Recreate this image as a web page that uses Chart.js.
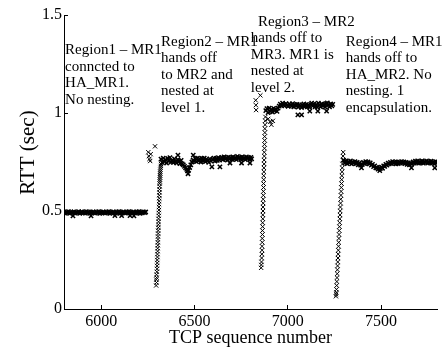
<!DOCTYPE html>
<html>
<head>
<meta charset="utf-8">
<script src="https://cdn.jsdelivr.net/npm/chart.js@4/dist/chart.umd.min.js"></script>
<style>
html,body{margin:0;padding:0;background:#fff;}
canvas{display:block;}
</style>
</head>
<body>
<canvas id="c" width="443" height="350"></canvas>
<script>
// ---- Data ----
const xTicks = [6000, 6500, 7000, 7500];
const yTicks = [0, 0.5, 1, 1.5];
const xLabel = 'TCP sequence number';
const yLabel = 'RTT (sec)';

// Region 1: MR1 connected to HA_MR1 (plateau)
const seqRegion1 = [5800,5806,5812,5818,5824,5830,5836,5842,5848,5848,
  5854,5860,5866,5872,5878,5884,5890,5896,5902,5908,
  5914,5920,5926,5932,5938,5944,5945,5950,5956,5962,
  5968,5974,5980,5986,5992,5998,6004,6010,6016,6022,
  6028,6034,6040,6046,6052,6058,6064,6070,6073,6076,
  6082,6088,6094,6100,6106,6109,6112,6118,6124,6130,
  6136,6142,6148,6154,6154,6160,6166,6172,6175,6178,
  6184,6190,6196,6202,6208,6214,6220,6226,6232,6238];
const rttRegion1 = [0.496,0.489,0.494,0.491,0.497,0.488,0.495,0.492,0.490,0.475,
  0.496,0.489,0.494,0.491,0.497,0.488,0.493,0.496,0.490,0.494,
  0.489,0.497,0.491,0.495,0.488,0.494,0.475,0.490,0.496,0.492,
  0.489,0.495,0.491,0.497,0.488,0.494,0.490,0.496,0.492,0.489,
  0.495,0.491,0.497,0.488,0.494,0.490,0.496,0.492,0.476,0.489,
  0.495,0.491,0.497,0.488,0.494,0.476,0.490,0.496,0.492,0.489,
  0.495,0.491,0.497,0.490,0.476,0.494,0.488,0.496,0.475,0.492,
  0.489,0.495,0.491,0.497,0.488,0.494,0.490,0.496,0.492,0.495];

// Region 2: handoff to MR2 — early outliers and ramp
const seqRegion2Ramp = [6252,6255,6258,6262,6265,6288,
  6294,6296,6295,6297,6296,6298,6299,6299,6300,6300,6301,6301,6302,6302,6303,6303,6304,6304,6305,6305,6306,6306,6307,6307,6308,6308,6309,6309,6310,6310,6311,6311,6312,6312,6313,6313,6314,6314,6315,6315,6316,6316,6317,6318,6319,6320];
const rttRegion2Ramp = [0.800,0.780,0.765,0.755,0.790,0.830,
  0.120,0.135,0.150,0.160,0.175,0.190,0.205,0.220,0.235,0.250,0.265,0.280,0.295,0.310,0.325,0.340,0.355,0.370,0.385,0.400,0.415,0.430,0.445,0.460,0.475,0.490,0.505,0.520,0.535,0.550,0.565,0.580,0.595,0.610,0.625,0.640,0.650,0.660,0.670,0.680,0.690,0.700,0.710,0.720,0.730,0.740];
// Region 2 plateau
const seqRegion2 = [6320,6326,6332,6338,6344,6350,6356,6362,6368,6374,
  6380,6386,6392,6398,6404,6410,6411,6416,6422,6428,
  6434,6440,6446,6452,6458,6462,6465,6468,6474,6480,
  6486,6492,6493,6498,6504,6510,6516,6522,6528,6534,
  6540,6546,6552,6558,6564,6570,6576,6582,6588,6593,
  6598,6604,6610,6616,6622,6628,6634,6636,6640,6646,
  6652,6658,6664,6670,6676,6682,6688,6690,6694,6700,
  6706,6712,6718,6724,6730,6736,6742,6748,6752,6754,
  6760,6766,6772,6778,6784,6790,6796,6797,6802,6806];
const rttRegion2 = [0.765,0.748,0.770,0.752,0.762,0.745,0.768,0.755,0.772,0.750,
  0.760,0.748,0.766,0.752,0.745,0.762,0.785,0.755,0.742,0.758,
  0.740,0.735,0.728,0.720,0.712,0.705,0.690,0.708,0.722,0.735,
  0.750,0.760,0.785,0.755,0.768,0.752,0.770,0.756,0.766,0.750,
  0.768,0.755,0.770,0.752,0.765,0.758,0.748,0.766,0.755,0.725,
  0.762,0.770,0.755,0.768,0.758,0.772,0.760,0.725,0.768,0.774,
  0.762,0.776,0.765,0.772,0.760,0.775,0.766,0.745,0.772,0.764,
  0.776,0.766,0.772,0.762,0.778,0.768,0.774,0.765,0.745,0.776,
  0.766,0.772,0.762,0.776,0.768,0.772,0.764,0.745,0.774,0.766];

// Region 3: MR2 hands off to MR3 — outliers, ramp, ramp-top cluster
const seqRegion3Ramp = [6828,6829,6830,6853,
  6857,6858,6859,6860,6861,6862,6862,6863,6863,6864,6864,6865,6865,6866,6866,6867,6867,6868,6868,6869,6869,6870,6870,6871,6871,6872,6872,6873,6873,6874,6874,6875,6875,6876,6876,6877,6877,6878,6879,6880,
  6895,6905,6912,6920];
const rttRegion3Ramp = [1.065,1.040,1.015,1.090,
  0.210,0.225,0.240,0.260,0.280,0.300,0.320,0.340,0.360,0.380,0.400,0.420,0.440,0.460,0.480,0.500,0.520,0.540,0.560,0.580,0.600,0.620,0.640,0.660,0.680,0.700,0.720,0.740,0.760,0.780,0.800,0.820,0.840,0.860,0.880,0.900,0.920,0.940,0.960,0.980,
  0.970,0.955,0.940,0.960];
// Region 3 plateau
const seqRegion3 = [6882,6888,6894,6900,6906,6912,6918,6924,6930,6936,
  6942,6948,6954,6960,6966,6972,6978,6984,6990,6996,
  7002,7008,7014,7020,7026,7032,7038,7044,7050,7054,
  7056,7062,7068,7074,7074,7080,7086,7092,7098,7104,
  7110,7116,7118,7122,7128,7134,7140,7146,7152,7158,
  7161,7164,7170,7176,7182,7188,7194,7200,7206,7208,
  7212,7218,7224,7230,7236,7241];
const rttRegion3 = [1.012,1.022,1.002,1.025,1.008,1.018,1.005,1.024,1.012,1.020,
  1.008,1.025,1.035,1.045,1.038,1.050,1.042,1.036,1.048,1.040,
  1.034,1.046,1.040,1.035,1.048,1.032,1.042,1.036,1.044,0.990,
  1.030,1.042,1.036,1.028,0.990,1.038,1.046,1.034,1.042,1.032,
  1.040,1.030,1.010,1.044,1.050,1.036,1.046,1.032,1.042,1.030,
  1.010,1.050,1.040,1.032,1.046,1.036,1.044,1.030,1.048,1.010,
  1.052,1.040,1.032,1.046,1.036,1.044];

// Region 4: MR1 hands off to HA_MR2 — ramp
const seqRegion4Ramp = [7258,7259,7260,7261,7262,7263,7264,7265,7266,7267,7268,7269,7270,7271,7272,7273,7274,7275,7276,7277,7278,7279,7280,7281,7282,7283,7284,7285,7286,7287,7288,7289,7290,7291,7292,7293,7295,7296,7297];
const rttRegion4Ramp = [0.065,0.075,0.085,0.100,0.120,0.140,0.160,0.180,0.200,0.220,0.240,0.260,0.280,0.300,0.320,0.340,0.360,0.380,0.400,0.420,0.440,0.460,0.480,0.500,0.520,0.540,0.560,0.580,0.600,0.620,0.640,0.660,0.680,0.700,0.720,0.740,0.760,0.780,0.800];
// Region 4 plateau
const seqRegion4 = [7300,7306,7312,7318,7324,7330,7336,7342,7348,7354,
  7360,7366,7372,7378,7384,7390,7395,7400,7406,7412,
  7418,7424,7430,7436,7442,7448,7454,7460,7466,7472,
  7478,7484,7490,7493,7496,7502,7508,7514,7520,7526,
  7532,7538,7544,7550,7556,7562,7568,7574,7580,7586,
  7592,7598,7604,7610,7616,7622,7628,7634,7640,7646,
  7652,7658,7663,7666,7672,7678,7684,7690,7696,7702,
  7708,7714,7720,7726,7732,7738,7744,7750,7756,7762,
  7768,7774,7780,7786,7788,7792,7798,7800];
const rttRegion4 = [0.758,0.745,0.755,0.742,0.752,0.746,0.756,0.740,0.750,0.744,
  0.752,0.742,0.748,0.736,0.746,0.734,0.720,0.738,0.748,0.742,
  0.752,0.744,0.750,0.740,0.746,0.734,0.738,0.726,0.730,0.720,
  0.722,0.714,0.720,0.706,0.716,0.724,0.718,0.730,0.728,0.738,
  0.734,0.744,0.740,0.748,0.742,0.752,0.744,0.750,0.740,0.748,
  0.742,0.750,0.744,0.752,0.746,0.750,0.742,0.748,0.738,0.746,
  0.736,0.744,0.720,0.740,0.750,0.744,0.754,0.746,0.756,0.744,
  0.752,0.746,0.756,0.744,0.752,0.748,0.756,0.744,0.752,0.746,
  0.754,0.744,0.750,0.742,0.720,0.752,0.744,0.748];

// Annotation texts
const noteRegion1 = ["Region1 \u2013 MR1", "conncted to", "HA_MR1.", "No nesting."];
const noteRegion2 = ["Region2 \u2013 MR1", "hands off", "to MR2 and", "nested at", "level 1."];
const noteRegion3Head = ["Region3 \u2013 MR2"];
const noteRegion3 = ["hands off to", "MR3. MR1 is", "nested at", "level 2."];
const noteRegion4 = ["Region4 \u2013 MR1", "hands off to", "HA_MR2. No", "nesting. 1", "encapsulation."];

// ---- Build ----
function pts(xs, ys) { return xs.map((x, i) => ({x: x, y: ys[i]})); }
const plateauPoints = [].concat(
  pts(seqRegion1, rttRegion1),
  pts(seqRegion2, rttRegion2),
  pts(seqRegion3, rttRegion3),
  pts(seqRegion4, rttRegion4)
);
const rampPoints = [].concat(
  pts(seqRegion2Ramp, rttRegion2Ramp),
  pts(seqRegion3Ramp, rttRegion3Ramp),
  pts(seqRegion4Ramp, rttRegion4Ramp)
);

// anchors in data units (seq, rtt): left edge / centre of first line
const notes = [
  {lines: noteRegion1, x: 5806, y: 1.321},
  {lines: noteRegion2, x: 6320, y: 1.364},
  {lines: noteRegion3Head, x: 6840, y: 1.466},
  {lines: noteRegion3, x: 6802, y: 1.381},
  {lines: noteRegion4, x: 7311, y: 1.364}
];

const SERIF = '"Liberation Serif", "Times New Roman", serif';

const notePlugin = {
  id: 'notes',
  afterDatasetsDraw(chart) {
    const ctx = chart.ctx;
    const xs = chart.scales.x, ys = chart.scales.y;
    ctx.save();
    ctx.font = '15px ' + SERIF;
    ctx.fillStyle = '#000';
    ctx.textAlign = 'left';
    ctx.textBaseline = 'middle';
    const lh = 16.5;
    notes.forEach(n => {
      const px = xs.getPixelForValue(n.x);
      const py = ys.getPixelForValue(n.y);
      n.lines.forEach((t, i) => ctx.fillText(t, px, py + i * lh));
    });
    // y axis label
    const ca = chart.chartArea;
    ctx.translate(28, ca.top + (ca.bottom - ca.top) * 0.468);
    ctx.rotate(-Math.PI / 2);
    ctx.textAlign = 'center';
    ctx.font = '21px ' + SERIF;
    ctx.fillText(yLabel, 0, 0);
    ctx.restore();
  }
};

new Chart(document.getElementById('c'), {
  type: 'scatter',
  data: {
    datasets: [{
      data: plateauPoints,
      pointStyle: 'crossRot',
      pointRadius: 3,
      pointBorderWidth: 1.5,
      borderColor: '#000',
      backgroundColor: '#000',
      showLine: false
    }, {
      data: rampPoints,
      pointStyle: 'crossRot',
      pointRadius: 3,
      pointBorderWidth: 1,
      borderColor: '#000',
      backgroundColor: '#000',
      showLine: false
    }]
  },
  options: {
    responsive: false,
    animation: false,
    devicePixelRatio: 1,
    layout: {padding: {top: 15, right: 6, left: 0, bottom: 0}},
    plugins: {legend: {display: false}, tooltip: {enabled: false}},
    scales: {
      x: {
        type: 'linear',
        min: 5800, max: 7800,
        afterBuildTicks: s => { s.ticks = xTicks.map(v => ({value: v})); },
        afterFit: s => { s.height = 41; },
        ticks: {
          color: '#000',
          font: {family: SERIF, size: 16, lineHeight: 1},
          padding: 9,
          maxRotation: 0,
          callback: v => String(v)
        },
        grid: {display: true, drawOnChartArea: false, drawTicks: true, tickLength: -4, color: '#000', lineWidth: 1},
        border: {display: true, color: '#000', width: 1},
        title: {display: true, text: xLabel, color: '#000',
                font: {family: SERIF, size: 18, lineHeight: 1}, padding: {top: 0, bottom: 3}}
      },
      y: {
        type: 'linear',
        min: 0, max: 1.5,
        afterBuildTicks: s => { s.ticks = yTicks.map(v => ({value: v})); },
        afterFit: s => { s.width = 64; },
        ticks: {
          color: '#000',
          font: {family: SERIF, size: 16, lineHeight: 1},
          padding: 6,
          callback: v => String(v)
        },
        grid: {display: true, drawOnChartArea: false, drawTicks: true, tickLength: -4, color: '#000', lineWidth: 1},
        border: {display: true, color: '#000', width: 1},
        title: {display: false}
      }
    }
  },
  plugins: [notePlugin]
});
</script>
</body>
</html>
